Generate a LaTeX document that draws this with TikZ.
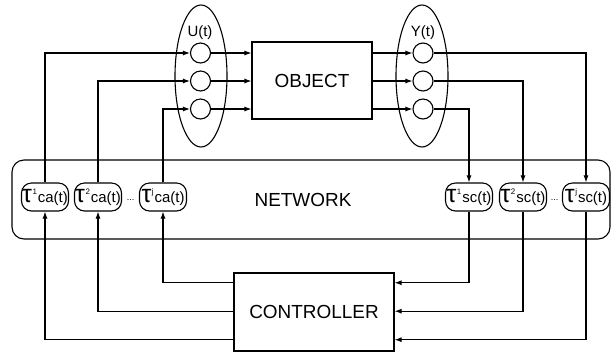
\documentclass[tikz,border=0pt]{standalone}
\usepackage{fontspec}
\setmainfont{Liberation Sans}
\usetikzlibrary{arrows.meta,positioning,shapes.geometric,calc}
\tikzset{
  block/.style={draw, line width=1.1pt, minimum width=120bp, minimum height=77bp, font=\fontsize{19}{21}\selectfont},
  delay/.style={draw, line width=1.1pt, fill=white, rounded corners=10bp, minimum width=47bp, minimum height=28bp, inner sep=0.5bp, font=\fontsize{15}{17}\selectfont},
  port/.style={draw, line width=1.1pt, circle, minimum size=20bp, inner sep=0pt},
  group/.style={draw, line width=1.1pt, ellipse, minimum width=52bp, minimum height=142bp, inner sep=0pt},
  netbox/.style={draw, line width=1.1pt, rounded corners=12bp, minimum width=598bp, minimum height=79bp},
  arrow/.style={-{Latex[length=7bp,width=5bp]}, line width=1.1pt},
  wire/.style={line width=1.1pt}
}
\newcommand{\tauname}[2]{{\fontsize{25}{25}\selectfont τ}\kern0.5bp\raisebox{8bp}{\fontsize{8}{8}\selectfont #1}\kern1bp#2(t)}

\begin{document}
\begin{tikzpicture}[x=1bp, y=-1bp]
  \useasboundingbox (0,0) rectangle (612,353);

  % object side
  \node[block] (obj) at (312,80.5) {OBJECT};
  \node[group] (ugroup) at (201,76) {};
  \node[group] (ygroup) at (422,76) {};
  \node[font=\fontsize{15}{17}\selectfont] (ulab) at (200,33) {U(t)};
  \node[font=\fontsize{15}{17}\selectfont] (ylab) at (423,33) {Y(t)};
  \foreach \i/\y in {1/53,2/81,3/109} {
    \node[port] (u\i) at (200.5,\y) {};
    \node[port] (y\i) at (423,\y) {};
  }

  % network
  \node[netbox] (net) at (311,199.5) {};
  \node[font=\fontsize{19}{21}\selectfont] (netlab) at (303,200) {NETWORK};

  % controller
  \node[block, minimum width=160bp, minimum height=78bp] (ctrl) at (314,312) {CONTROLLER};
  \coordinate (cr1) at ($(ctrl.north east)!0.13!(ctrl.south east)$);
  \coordinate (cr2) at ($(ctrl.north east)!0.49!(ctrl.south east)$);
  \coordinate (cr3) at ($(ctrl.north east)!0.85!(ctrl.south east)$);
  \coordinate (cl1) at ($(ctrl.north west)!0.13!(ctrl.south west)$);
  \coordinate (cl2) at ($(ctrl.north west)!0.49!(ctrl.south west)$);
  \coordinate (cl3) at ($(ctrl.north west)!0.85!(ctrl.south west)$);

  % delays
  \node[delay] (ca1) at (45,197) {\tauname{1}{ca}};
  \node[delay] (ca2) at (98,197) {\tauname{2}{ca}};
  \node[delay] (caj) at (163,197) {\tauname{j}{ca}};
  \node[delay] (sc1) at (469,197) {\tauname{1}{sc}};
  \node[delay] (sc2) at (523,197) {\tauname{2}{sc}};
  \node[delay] (scj) at (586,197) {\tauname{j}{sc}};
  \node[font=\fontsize{9}{9}\selectfont, inner sep=0pt] (dotsca) at ($(ca2.east)!0.5!(caj.west)+(0,3)$) {...};
  \node[font=\fontsize{9}{9}\selectfont, inner sep=0pt] (dotssc) at ($(sc2.east)!0.5!(scj.west)+(0,3)$) {...};

  % links
  \draw[arrow] (ca1) |- (u1);
  \draw[arrow] (ca2) |- (u2);
  \draw[arrow] (caj) |- (u3);
  \foreach \i in {1,2,3} {
    \draw[arrow] (u\i) -- (u\i -| obj.west);
    \draw[arrow] (obj.east |- y\i) -- (y\i);
  }
  \draw[arrow] (y1) -| (scj);
  \draw[arrow] (y2) -| (sc2);
  \draw[arrow] (y3) -| (sc1);
  \draw[arrow] (sc1) |- (cr1);
  \draw[arrow] (sc2) |- (cr2);
  \draw[arrow] (scj) |- (cr3);
  \draw[arrow] (cl1) -| (caj);
  \draw[arrow] (cl2) -| (ca2);
  \draw[arrow] (cl3) -| (ca1);
\end{tikzpicture}
\end{document}
